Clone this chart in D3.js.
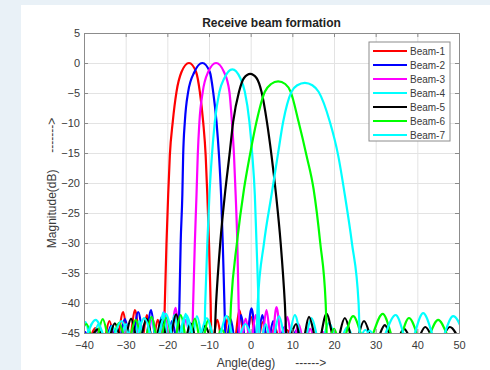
<!DOCTYPE html>
<html>
<head>
<meta charset="utf-8">
<script src="https://cdn.jsdelivr.net/npm/d3@7"></script>
<style>
  html, body { margin: 0; padding: 0; background: #e9f1f7; }
  svg { display: block; font-family: "Liberation Sans", Arial, sans-serif; }
</style>
</head>
<body>
<svg id="chart" width="490" height="370"></svg>
<script>
// axis ranges and ticks
const xTicks = [-40, -30, -20, -10, 0, 10, 20, 30, 40, 50];
const yTicks = [-45, -40, -35, -30, -25, -20, -15, -10, -5, 0, 5];

const beamNames = ["Beam-1", "Beam-2", "Beam-3", "Beam-4", "Beam-5", "Beam-6", "Beam-7"];
const beamColors = ["#ff0000", "#0000ff", "#ff00ff", "#00ffff", "#000000", "#00ff00", "#00ffff"];

// [angle (deg), magnitude (dB)]; -47 marks a null below the axis
const beam1 = [[-38.9,-47],[-37.2,-44.2],[-35.5,-47],[-33.9,-43],[-32.3,-47],[-30.6,-41.5],[-29.2,-47],[-27.8,-41.2],[-26.3,-47],[-24.9,-42],[-23.6,-47],[-22.3,-42.8],[-20.9,-47],
  [-20.6,-40],[-20.2,-30],[-19.8,-22],[-19.4,-15.4],[-18.7,-9.8],[-17.8,-4.8],[-16.6,-1.5],[-14.8,0],[-13.1,-1.5],[-12.2,-4.8],[-11.4,-9.8],[-10.8,-15.4],[-10.4,-22],[-10.0,-30],[-9.6,-40],[-9.4,-47],
  [-8.0,-42.8],[-6.7,-47],[-5.4,-42.3],[-4.0,-47],[-2.7,-41.2],[-1.3,-47],[0.1,-42.3],[1.5,-47],[2.9,-43.2],[4.3,-47],[5.8,-44],[7.2,-47],[8.7,-44.5],[10.2,-47]];

const beam2 = [[-41,-47],[-39.8,-44.8],[-38.3,-47],[-36.8,-44.5],[-35.1,-47],[-33.5,-43.8],[-31.8,-47],[-30.2,-42.7],[-28.6,-47],[-27.0,-41.5],[-25.4,-47],[-23.9,-41.2],[-22.6,-47],[-21.4,-42.3],[-20.1,-47],[-18.9,-43],[-17.4,-47],
  [-17.1,-40],[-16.8,-30],[-16.4,-22],[-16.2,-15.4],[-15.8,-9.8],[-15.0,-4.8],[-13.5,-1.5],[-11.6,0],[-9.8,-1.5],[-9.0,-4.8],[-8.2,-9.8],[-7.6,-15.4],[-7.1,-22],[-6.7,-30],[-6.3,-40],[-6.0,-47],
  [-4.8,-42.7],[-3.6,-47],[-2.3,-42],[-1.1,-47],[0.2,-40.9],[1.5,-47],[2.8,-42],[4.1,-47],[5.4,-43],[6.7,-47],[8.1,-44],[9.5,-47],[10.9,-44.6],[12.4,-47]];

const beam3 = [[-38.3,-47],[-36.5,-44.6],[-34.8,-47],[-33.1,-44.3],[-31.4,-47],[-29.8,-44],[-28.2,-47],[-26.6,-43.3],[-25.1,-47],[-23.6,-42.5],[-22.2,-47],[-20.8,-41.5],[-19.4,-47],[-18.0,-40.8],[-16.8,-47],[-15.6,-42.8],[-14.1,-47],
  [-13.8,-40],[-13.4,-30],[-13.0,-22],[-12.7,-15.4],[-12.3,-9.8],[-11.5,-4.8],[-10.2,-1.5],[-8.3,0],[-6.4,-1.5],[-5.1,-4.8],[-4.5,-9.8],[-4.0,-15.4],[-3.6,-22],[-3.2,-30],[-2.9,-40],[-2.6,-47],
  [-1.2,-42.6],[0,-47],[1.2,-42],[2.5,-47],[3.8,-41.2],[5.0,-47],[6.2,-40.7],[7.5,-47],[8.8,-42.3],[10.1,-47],[11.5,-43.5],[12.9,-47],[14.3,-44.3],[15.7,-47],[17.2,-44.8],[18.7,-47]];

const beam4 = [[-41,-47],[-39.6,-43.2],[-38.2,-47],[-36.6,-43.6],[-34.9,-47],[-33.2,-43.8],[-31.5,-47],[-29.9,-43.5],[-28.3,-47],[-26.8,-43],[-25.3,-47],[-23.8,-42.3],[-22.4,-47],[-21.0,-41.6],[-19.6,-47],[-18.3,-42],[-16.9,-47],[-15.6,-41.8],[-14.3,-47],[-12.9,-42.2],[-11.2,-47],
  [-10.9,-40],[-10.4,-30],[-9.9,-22],[-9.3,-15.4],[-8.6,-9.8],[-7.5,-4.8],[-6.3,-2.5],[-4.4,-1.05],[-2.5,-2.5],[-1.4,-4.8],[-0.3,-9.8],[0.4,-15.4],[1.0,-22],[1.4,-30],[1.9,-40],[2.2,-47],
  [3.6,-43.5],[5.0,-47],[6.8,-42.2],[8.7,-47],[10.6,-42],[12.6,-47],[14.6,-42.5],[16.7,-47],[18.8,-43.3],[21.0,-47],[23.2,-44],[25.4,-47],[27.5,-44.5],[29.8,-47]];

const beam5 = [[-38.8,-47],[-36.7,-44.4],[-34.6,-47],[-32.6,-43.4],[-30.6,-47],[-28.7,-42.6],[-26.9,-47],[-25.0,-42.6],[-23.2,-47],[-21.4,-42.8],[-19.7,-47],[-17.9,-41.9],[-16.1,-47],[-14.4,-43.4],[-12.7,-47],[-11.0,-43.8],[-8.8,-47],
  [-8.3,-40],[-7.3,-30],[-6.2,-22],[-5.1,-15.4],[-4.2,-9.8],[-2.8,-4.8],[-1.6,-2.5],[-0.1,-1.8],[1.4,-2.5],[2.6,-4.8],[3.9,-9.8],[5.0,-15.4],[6.1,-22],[7.2,-30],[8.2,-40],[8.7,-47],
  [10.9,-43.5],[12.3,-47],[14.0,-42.3],[16.1,-47],[18.2,-41.8],[20.4,-47],[22.6,-42.5],[24.9,-47],[27.2,-43],[29.7,-47],[32.2,-43.7],[34.5,-47],[36.8,-44.3],[39.3,-47],[41.9,-44],[44.8,-47],[47.8,-44],[50.5,-47]];

const beam6 = [[-41.4,-47],[-39.4,-43.5],[-37.5,-47],[-35.5,-42.7],[-33.6,-47],[-31.6,-43.3],[-29.6,-47],[-27.6,-42.8],[-25.7,-47],[-23.8,-42.3],[-22.0,-47],[-20.2,-42.4],[-18.5,-47],[-16.8,-42.0],[-15.1,-47],[-13.4,-42.6],[-11.8,-47],[-10.2,-42.8],[-8.6,-47],[-7.0,-44.3],[-5.2,-47],
  [-4.7,-40],[-3.3,-30],[-1.6,-21],[-0.2,-15.4],[1.4,-9.8],[3.4,-4.8],[4.9,-3.5],[6.6,-3.05],[8.3,-3.5],[9.6,-4.8],[11.5,-9.8],[13.4,-15.4],[15.1,-21],[16.7,-30],[18.0,-40],[18.4,-47],
  [20.0,-44.3],[21.6,-47],[24.6,-42.2],[27.8,-47],[31.7,-41.8],[35.0,-47],[38.0,-42.5],[41.4,-47],[45.0,-42.8],[48.8,-47],[52,-43]];

const beam7 = [[-40,-47],[-37.2,-42.8],[-34.0,-47],[-31.0,-43],[-28.2,-47],[-25.5,-42.5],[-23.0,-47],[-20.4,-41.8],[-18.0,-47],[-15.5,-42],[-13.0,-47],[-10.5,-42.5],[-8.2,-47],[-5.8,-42.2],[-3.6,-47],[-1.3,-43.5],[1.3,-47],
  [1.7,-40],[3.2,-30],[5.0,-22],[6.5,-15.4],[7.8,-9.8],[9.8,-4.8],[11.2,-3.7],[13.0,-3.3],[14.8,-3.7],[16.3,-4.8],[19.0,-9.8],[21.0,-15.4],[22.6,-22],[24.3,-30],[25.9,-40],[26.3,-47],
  [28.6,-44.6],[30.6,-47],[34.8,-42],[38.0,-47],[41.4,-41.7],[45.0,-47],[48.6,-42.2],[52,-47]];

const beams = [beam1, beam2, beam3, beam4, beam5, beam6, beam7];

const svg = d3.select("#chart");
const margin = { left: 84, top: 33, right: 31, bottom: 37 };
const W = 490, H = 370;
const w = W - margin.left - margin.right, h = H - margin.top - margin.bottom;

// white panel on light page
svg.append("rect").attr("x", 21).attr("y", 5).attr("width", W - 21).attr("height", H - 5).attr("fill", "#fff");

const x = d3.scaleLinear().domain([-40, 50]).range([0, w]);
const y = d3.scaleLinear().domain([-45, 5]).range([h, 0]);

const g = svg.append("g").attr("transform", `translate(${margin.left},${margin.top})`);

// grid
g.append("g").attr("class", "grid").attr("transform", `translate(0,${h})`)
  .call(d3.axisBottom(x).tickValues(xTicks).tickSize(-h).tickFormat(""));
g.append("g").attr("class", "grid")
  .call(d3.axisLeft(y).tickValues(yTicks).tickSize(-w).tickFormat(""));
g.selectAll(".grid line").attr("stroke", "#e3e3e3");
g.selectAll(".grid .domain").remove();

// curves
g.append("clipPath").attr("id", "clip").append("rect").attr("width", w).attr("height", h);
const line = d3.line().x(d => x(d[0])).y(d => y(d[1])).curve(d3.curveMonotoneX);
g.append("g").attr("clip-path", "url(#clip)")
  .selectAll("path").data(beams).join("path")
  .attr("d", line)
  .attr("fill", "none")
  .attr("stroke", (d, i) => beamColors[i])
  .attr("stroke-width", 2.2)
  .attr("stroke-linejoin", "round");

// axes with inward ticks, box on
const axisColor = "#8c8c8c";
g.append("g").attr("transform", `translate(0,${h})`)
  .call(d3.axisBottom(x).tickValues(xTicks).tickSizeInner(-4).tickSizeOuter(0).tickPadding(8));
g.append("g")
  .call(d3.axisLeft(y).tickValues(yTicks).tickSizeInner(-4).tickSizeOuter(0).tickPadding(4));
g.append("g").call(d3.axisTop(x).tickValues(xTicks).tickSizeInner(-4).tickSizeOuter(0).tickFormat(""));
g.append("g").attr("transform", `translate(${w},0)`)
  .call(d3.axisRight(y).tickValues(yTicks).tickSizeInner(-4).tickSizeOuter(0).tickFormat(""));
g.selectAll(".domain, .tick line").attr("stroke", axisColor);
g.selectAll(".tick text").attr("fill", "#3a3a3a").style("font-size", "11px")
  .style("font-family", "'Liberation Sans', Arial, sans-serif");
g.selectAll(".grid .tick line").attr("stroke", "#e3e3e3");

// title and labels
svg.append("text").attr("x", margin.left + w / 2).attr("y", 27).attr("text-anchor", "middle")
  .style("font-size", "12px").style("font-weight", "bold").attr("fill", "#222")
  .text("Receive beam formation");
svg.append("text").attr("x", margin.left + w / 2).attr("y", 367).attr("text-anchor", "middle")
  .style("font-size", "12px").style("white-space", "pre").attr("fill", "#3a3a3a")
  .text("Angle(deg)      ------>");
svg.append("text").attr("transform", `translate(56,${margin.top + h / 2}) rotate(-90)`)
  .attr("text-anchor", "middle").style("font-size", "12px").style("white-space", "pre").attr("fill", "#3a3a3a")
  .text("Magnitude(dB)     ------->");

// legend
const lg = svg.append("g").attr("transform", "translate(369,42)");
lg.append("rect").attr("width", 81).attr("height", 99).attr("fill", "#fff").attr("stroke", "#8c8c8c");
const items = lg.selectAll("g").data(beamNames).join("g")
  .attr("transform", (d, i) => `translate(0,${9 + i * 14})`);
items.append("line").attr("x1", 4).attr("x2", 38).attr("stroke", (d, i) => beamColors[i]).attr("stroke-width", 2.2);
items.append("text").attr("x", 41).attr("dy", "0.35em").style("font-size", "10px").attr("fill", "#3a3a3a").text(d => d);
</script>
</body>
</html>
